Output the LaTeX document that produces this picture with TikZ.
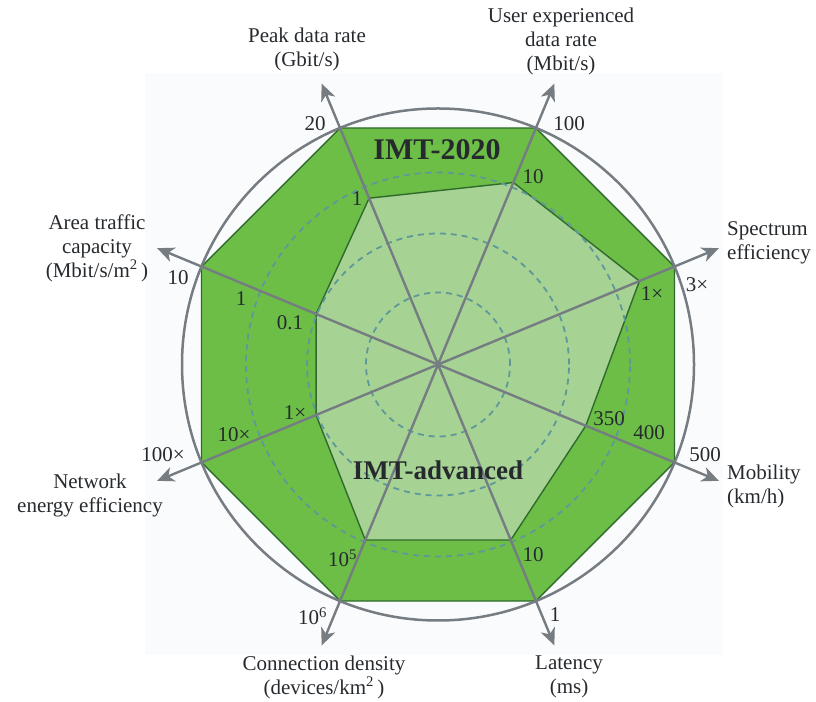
\documentclass[tikz,border=0pt]{standalone}
\usepackage{fontspec}
\setmainfont{Liberation Serif}
\usetikzlibrary{arrows.meta,calc}
\definecolor{outerg}{HTML}{6CBE47}
\definecolor{innerg}{HTML}{A6D393}
\definecolor{edgeg}{HTML}{2F6A2C}
\definecolor{axisc}{HTML}{757C82}
\definecolor{dashc}{HTML}{5F9898}
\definecolor{bgc}{HTML}{FAFBFD}
\definecolor{txt}{HTML}{262A2E}
\begin{document}
\begin{tikzpicture}[x=1pt,y=1pt,
  lbl/.style={font=\fontsize{21}{24}\selectfont, text=txt, inner sep=0pt, align=center},
  val/.style={font=\fontsize{21}{24}\selectfont, text=txt, inner sep=0pt},
  ttl/.style={font=\fontsize{30}{32}\selectfont\bfseries, text=txt, inner sep=0pt},
  axisline/.style={draw=axisc, line width=2.4pt, -{Stealth[length=17pt,width=15pt,inset=5pt]}},
  polyedge/.style={draw=edgeg, line width=1.4pt, line join=round},
  ring/.style={draw=dashc, line width=1.8pt, dash pattern=on 6pt off 5pt},
  outring/.style={draw=axisc, line width=2.5pt}
]
\useasboundingbox (0,0) rectangle (816,701);
\fill[bgc] (145,46) rectangle (723,628);
\coordinate (O) at (438,336.5);
\foreach \n/\a in {pk/112.5, ue/67.5, se/22.5, mo/-22.5, la/-67.5, cd/-112.5, ne/-157.5, at/157.5}{
  \coordinate (\n o) at ($(O)+(\a:256)$);
  \coordinate (\n t) at ($(O)+(\a:304)$);
}
\coordinate (pki) at ($(O)+(112.5:180)$);
\coordinate (uei) at ($(O)+(67.5:197)$);
\coordinate (sei) at ($(O)+(22.5:218)$);
\coordinate (moi) at ($(O)+(-22.5:160)$);
\coordinate (lai) at ($(O)+(-67.5:190)$);
\coordinate (cdi) at ($(O)+(-112.5:190)$);
\coordinate (nei) at ($(O)+(-157.5:132)$);
\coordinate (ati) at ($(O)+(157.5:132)$);
% polygons
\fill[outerg] (pko)--(ueo)--(seo)--(moo)--(lao)--(cdo)--(neo)--(ato)--cycle;
\draw[polyedge] (pko)--(ueo)--(seo)--(moo)--(lao)--(cdo)--(neo)--(ato)--cycle;
\fill[innerg] (pki)--(uei)--(sei)--(moi)--(lai)--(cdi)--(nei)--(ati)--cycle;
\draw[polyedge] (pki)--(uei)--(sei)--(moi)--(lai)--(cdi)--(nei)--(ati)--cycle;
% rings
\draw[ring] (O) circle (72);
\draw[ring] (O) circle (131);
\draw[ring] (O) circle (192);
\draw[outring] (O) circle (256);
% axes
\foreach \n in {pk,ue,se,mo,la,cd,ne,at}{
  \draw[axisline] (O) -- (\n t);
}
\fill[axisc] (O) circle (2);
% titles
\node[ttl] (t2020) at (437,551) {IMT-2020};
\node[ttl, font=\fontsize{27}{30}\selectfont\bfseries] (tadv) at (438,231) {IMT-advanced};
% axis labels
\node[lbl] (lpk) at (307,651.5) {Peak data rate\\(Gbit/s)};
\node[lbl] (lue) at (561,659.5) {User experienced\\data rate\\(Mbit/s)};
\node[lbl, anchor=west, align=left] (lse) at (727,458) {Spectrum\\efficiency};
\node[lbl, anchor=west, align=left] (lmo) at (727,215) {Mobility\\(km/h)};
\node[lbl] (lla) at (569,24) {Latency\\(ms)};
\node[lbl] (lcd) at (324,24) {Connection density\\(devices/km\textsuperscript{2}\,)};
\node[lbl] (lne) at (90,206) {Network\\energy efficiency};
\node[lbl] (lat) at (97,453) {Area traffic\\capacity\\(Mbit/s/m\textsuperscript{2}\,)};
% values
\node[val] (v20) at (315,577) {20};
\node[val] (v100) at (569,577) {100};
\node[val] (v3x) at (697,416) {3×};
\node[val] (v500) at (705,246) {500};
\node[val] (v1l) at (555,86) {1};
\node[val, anchor=base west] (v106) at (298,76) {10\textsuperscript{6}};
\node[val] (v100x) at (163,246) {100×};
\node[val] (v10a) at (178,423) {10};
\node[val] (v1a) at (241,402) {1};
\node[val] (v10x) at (234,266) {10×};
\node[val] (v400) at (649,268) {400};
\node[val] (v1p) at (357,502) {1};
\node[val] (v10u) at (533,524) {10};
\node[val] (v1s) at (652,407) {1×};
\node[val] (v350) at (609,282) {350};
\node[val] (v10l) at (533,146) {10};
\node[val, anchor=base west] (v105) at (328,134) {10\textsuperscript{5}};
\node[val] (v1n) at (295,288) {1×};
\node[val] (v01) at (290,378) {0.1};
\end{tikzpicture}
\end{document}
